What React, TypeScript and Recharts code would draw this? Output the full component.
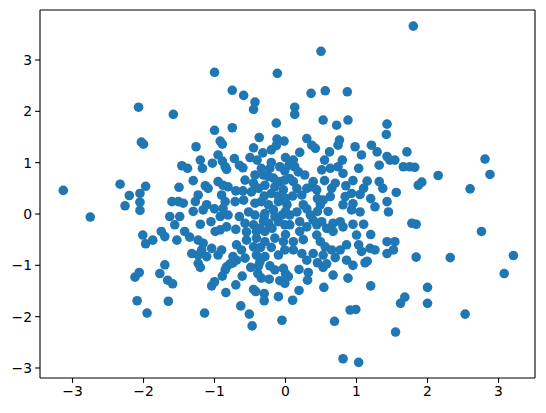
import React from 'react';
import { ScatterChart, Scatter, XAxis, YAxis, ReferenceLine } from 'recharts';

const xValues = [
  -2.07, -1.00, -0.115, -0.75, -0.59, -0.43, -0.45, -1.58, -0.13, -1.00, -0.75,
  1.80, 0.50, 0.36, 0.56, 0.87, 0.13, 0.13, 0.53, 0.72, 0.88, 1.43, 1.42,
  -2.03, -2.00, -3.13, -2.33, -1.97, -2.20, -2.05, -2.26, -2.05, -2.05, -2.75, -2.01, -1.97, -1.87, -1.75, -1.70,
  1.82, 2.81, 2.88, 2.15, 1.92, 1.87, 2.60, 1.84, 2.76, 1.84, 2.32, 3.21,
  3.08, 2.00, 2.00, 2.53,
  0.19, 0.32, 0.31, 0.53, 0.58, 0.67, 0.88, 0.86, 1.12, 1.15, 0.54, 0.19, 0.10, 1.20, 1.68, 1.62, 0.91, 0.99, 0.69, 1.55, 0.81, 1.03,
  -1.66, -1.59, -1.65, -1.23, -1.20, -1.14, -1.04, -1.00, -0.89, -0.85, -0.83, -0.78, -0.74, -0.69, -0.84, -0.70, -0.61, -0.63, -0.51, -0.47,
  -0.45, -0.42, -0.49, -0.38, -0.36, -0.39, -0.34, -0.30, -0.30, -0.22, -0.15, -0.23, -0.08, -0.10, -0.03, 0.00, 0.04, -0.01, -0.05,
  -2.12, -2.06, -1.77, -1.70, -2.09, -1.95,
  0.30, 0.37, 0.42, 0.76, 0.74, 0.62, 0.98, 1.07, 1.21, 1.29, 1.71, 1.43, 1.47, 1.54, 1.32, 1.66, 1.75,
  0.11, 0.13, 0.18, 0.27, 0.51, 0.63, 0.74, 0.81, 1.03, 1.15, 1.32, 1.37, 1.56,
  0.06, 0.11, 0.16, 0.23, 0.39, 0.37, 0.44, 0.65, 0.63, 0.53, 0.49, 0.84, 0.93, 1.05, 0.81, 0.93, 1.05, 1.26, 1.43, 1.45,
  0.06, 0.16, 0.20, 0.25, 0.35, 0.39, 0.44, 0.51, 0.58, 0.67, 0.77, 0.81, 0.67, 0.20, 0.06,
  0.11, 0.11, 0.23, 0.39, 0.44, 0.49, 0.56, 0.65, 0.53, 0.77, 0.86, 1.00, 1.03, 1.07, 1.19, 1.26, 1.43, 1.54, 1.43, 1.52, 1.78,
  -0.92, -0.89, -0.37, -0.12, -0.02, -1.26, -0.45, -0.32, -0.13, -0.72, -1.03, -0.89, -0.85, -0.83, -1.17, -1.46, -1.38,
  -0.57, -0.43, -0.34, -0.22, -0.08, -0.01, -1.50, -1.13, -1.09, -0.95, -0.88, -0.81,
  -1.23, -1.27, -1.11, -1.16, -1.60, -1.51, -1.44, -0.90, -0.85, -0.88, -0.92, -0.81, -0.71, -0.59,
  -0.48, -0.38, -0.29, -0.15, -0.03, -0.43, -0.34, -0.24, -0.10, 0.02, -0.52, -0.43, -0.29, -0.17, -0.05,
  -0.57, -0.45, -0.31, -0.24, -0.10, -0.01, -1.63, -1.49, -1.56, -1.42, -1.53,
  -1.23, -1.16, -1.18, -1.04, -0.99, -0.92, -0.83, -1.32, -1.23, -1.11, -0.95, -0.90,
  -0.69, -0.62, -0.55, -0.45, -0.41, -0.29, -0.15, -0.03, -0.01, -0.74, -0.57, -0.41, -0.29, -0.10,
  -0.36, -0.29, -0.41, -0.19, -0.24, -0.31, -0.17, -0.08, -0.01,
  -0.30, -0.20, -0.10, 0.00, 0.10, -0.45, -0.60, -0.70, -0.20, -0.40, 0.00, 0.05, -0.60, -0.50,
  -0.30, -0.15, 0.00, -0.65, -0.70, -0.55, -0.20, -0.35, 0.00, 0.25, 0.30, 0.30, 0.45, 0.60,
  0.30, 0.45, 0.70, 0.85, 0.95, 0.55, 0.20, 0.55, 0.80, 0.95, 1.10, 1.20, 1.10, 1.20, 0.95,
  0.30, 0.45, 0.70, 0.95, -1.00, -1.05, -1.20, -1.30, -1.35, -0.65, -1.30, -1.20, -0.95, -0.20,
];

const yValues = [
  2.08, 2.76, 2.74, 2.41, 2.31, 2.18, 2.04, 1.94, 1.77, 1.63, 1.68,
  3.66, 3.17, 2.35, 2.40, 2.38, 2.08, 1.94, 1.83, 1.73, 1.83, 1.75, 1.55,
  1.40, 1.36, 0.46, 0.58, 0.54, 0.36, 0.40, 0.16, 0.23, 0.07, -0.06, -0.41, -0.58, -0.51, -0.34, -0.44,
  0.91, 1.07, 0.77, 0.75, 0.62, 0.56, 0.49, -0.20, -0.34, -0.84, -0.85, -0.81,
  -1.16, -1.43, -1.74, -1.95,
  -1.08, -1.14, -1.29, -1.04, -0.97, -1.19, -1.25, -0.90, -0.95, -0.92, -1.43, -1.49, -1.68, -1.40, -1.62, -1.74, -1.87, -1.86, -2.09, -2.30, -2.82, -2.89,
  -1.29, -1.36, -1.70, -0.96, -1.04, -1.93, -1.40, -1.32, -1.21, -1.09, -1.03, -0.97, -0.95, -0.90, -1.53, -1.38, -1.21, -1.79, -1.95, -2.18,
  -1.47, -1.51, -1.04, -1.01, -0.93, -1.16, -1.25, -1.55, -1.69, -1.01, -1.09, -1.27, -1.30, -1.61, -1.06, -1.16, -1.22, -1.35, -2.07,
  -1.23, -1.14, -1.16, -0.99, -1.69, -1.93,
  1.47, 1.34, 1.28, 1.44, 1.34, 1.21, 1.31, 1.15, 1.34, 1.21, 1.21, 1.12, 1.05, 1.05, 0.95, 0.92, 0.92,
  1.05, 0.92, 0.82, 0.76, 0.86, 0.89, 0.92, 0.79, 0.89, 0.64, 0.63, 0.50, 0.42,
  0.69, 0.63, 0.50, 0.37, 0.63, 0.53, 0.47, 0.50, 0.34, 0.27, 0.18, 0.34, 0.40, 0.38, 0.18, 0.08, 0.04, 0.14, 0.24, 0.04,
  -0.02, 0.04, -0.15, 0.18, -0.02, -0.12, -0.21, -0.15, -0.28, -0.18, -0.15, -0.25, -0.34, -0.34, -0.21,
  -0.54, -0.70, -0.77, -0.77, -0.41, -0.54, -0.64, -0.70, -0.80, -0.70, -0.60, -0.41, -0.60, -0.73, -0.67, -0.70, -0.54, -0.54, -0.77, -0.70, -0.18,
  1.42, 1.36, 1.49, 1.46, 1.42, 1.31, 1.29, 1.19, 1.33, 1.08, 0.99, 1.03, 0.92, 0.87, 0.89, 0.94, 0.89,
  0.66, 0.76, 0.89, 0.89, 0.92, 0.84, 0.52, 0.55, 0.50, 0.63, 0.56, 0.53,
  0.37, 0.24, 0.18, 0.08, 0.24, 0.24, 0.21, 0.37, 0.24, 0.11, -0.05, -0.02, 0.24, 0.27,
  0.43, 0.50, 0.56, 0.53, 0.47, 0.21, 0.24, 0.18, 0.24, 0.18, 0.04, -0.02, 0.01, 0.08, -0.02,
  -0.18, -0.21, -0.14, -0.18, -0.15, -0.21, -0.05, -0.05, -0.21, -0.34, -0.51,
  -0.51, -0.57, -0.70, -0.67, -0.34, -0.31, -0.25, -0.77, -0.80, -0.83, -0.80, -0.70,
  -0.60, -0.70, -0.51, -0.64, -0.47, -0.54, -0.47, -0.54, -0.70, -0.83, -0.86, -0.80, -0.83, -0.80,
  -0.28, -0.34, -0.34, -0.28, 0.73, 0.76, 0.70, 0.63, 0.66,
  0.35, 0.40, 0.35, 0.30, 0.35, 0.60, 0.45, 0.45, 1.00, 1.05, 1.10, 0.95, 0.90, 1.10,
  -0.05, -0.05, 0.05, -0.05, -0.30, -0.35, -0.65, -0.65, -0.40, -0.50, -0.25, 0.10, 0.05, 0.05,
  0.50, 0.30, 0.60, 0.55, 0.65, 0.65, 1.20, 1.05, 1.05, 0.20, 0.50, 0.30, -0.20, -0.40, -0.20,
  -0.90, -0.95, -0.85, -1.00, 0.10, -0.15, -0.20, 0.05, -0.45, 0.95, 0.65, 1.05, 1.15, 1.25,
];

const xTicks = [-3, -2, -1, 0, 1, 2, 3];
const yTicks = [-3, -2, -1, 0, 1, 2, 3];
const xDomain = [-3.458, 3.514];
const yDomain = [-3.195, 3.974];

const points = xValues.map((x, i) => ({ x, y: yValues[i] }));

const fmt = (v: number) => String(v).replace('-', '\u2212');

const tickStyle = { fill: '#000', fontSize: 13.9, fontFamily: 'DejaVu Sans' };

const Dot = (props: any) => (
  <circle cx={props.cx} cy={props.cy} r={4.8} fill="#1f77b4" />
);

export default function App() {
  return (
    <div style={{ position: 'absolute', left: 0, top: 0, background: '#fff' }}>
      <ScatterChart width={546} height={413} margin={{ top: 10, right: 11, bottom: 0, left: 0 }}>
        <XAxis
          dataKey="x"
          type="number"
          domain={xDomain}
          ticks={xTicks}
          tickFormatter={fmt}
          height={35}
          tick={tickStyle}
          tickSize={4.9}
          tickMargin={3}
          stroke="#000"
          strokeWidth={1.1}
          allowDataOverflow
        />
        <YAxis
          dataKey="y"
          type="number"
          domain={yDomain}
          ticks={yTicks}
          tickFormatter={fmt}
          width={40}
          tick={tickStyle}
          tickSize={4.9}
          tickMargin={3}
          stroke="#000"
          strokeWidth={1.1}
          allowDataOverflow
        />
        <ReferenceLine y={yDomain[1]} stroke="#000" strokeWidth={1.1} />
        <ReferenceLine x={xDomain[1]} stroke="#000" strokeWidth={1.1} />
        <Scatter data={points} isAnimationActive={false} shape={Dot} />
      </ScatterChart>
    </div>
  );
}
